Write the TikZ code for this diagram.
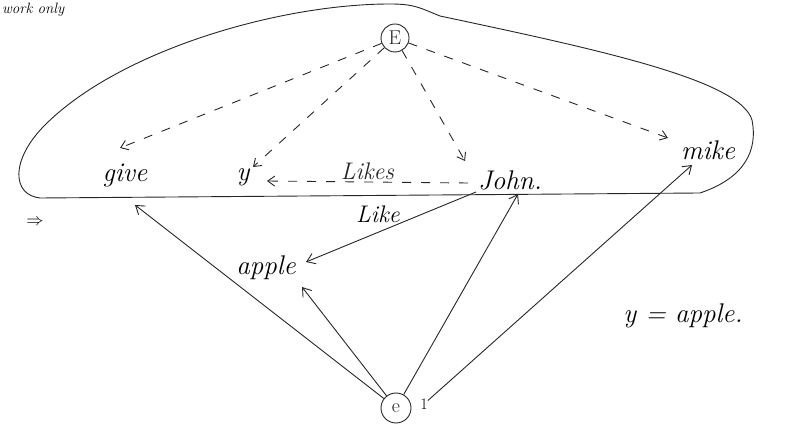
\documentclass[tikz,border=0pt]{standalone}
\usetikzlibrary{arrows.meta,calc}
\begin{document}
\begin{tikzpicture}[x=1pt,y=-1pt,
  ink/.style={line width=0.9pt,black!85},
  word/.style={font=\fontsize{27}{30}\selectfont\itshape,inner sep=1pt},
  circ/.style={circle,draw,ink,inner sep=1.5pt,font=\fontsize{20}{22}\selectfont},
  darr/.style={ink,dashed,dash pattern=on 9pt off 10pt,-{Straight Barb[length=7pt,width=10pt]}},
  sarr/.style={ink,-{Straight Barb[length=8pt,width=11pt]}},
  lbl/.style={font=\fontsize{24}{26}\selectfont\itshape,inner sep=1pt}]
\useasboundingbox (0,0) rectangle (788,438);
% partial text at top
\node[font=\fontsize{15}{17}\selectfont\itshape,anchor=base west,inner sep=0pt] (top) at (2,14) {work only};
% enclosing boundary
\draw[ink] (700,193) -- (40,198) .. controls (12,195) and (10,160) .. (45,125)
  .. controls (120,50) and (280,4) .. (390,4) .. controls (415,4) and (420,8) .. (440,16)
  .. controls (600,50) and (740,80) .. (752,120) .. controls (758,150) and (745,178) .. (700,193);
% nodes
\node[circ,minimum size=28pt] (E) at (395,38) {E};
\node[word] (give) at (125,175) {give};
\node[word] (y) at (243,177) {y};
\node[word] (john) at (510,180) {John.};
\node[word] (mike) at (708,150) {mike};
\node[word] (apple) at (266,268) {apple};
\node[circ,minimum size=30pt] (e1) at (396,408) {e};
\node[font=\fontsize{16}{18}\selectfont,inner sep=0pt] (one) at (424,404) {1};
\node[word] (eq) at (683,316) {y = apple.};
\node[font=\fontsize{18}{20}\selectfont] (imp) at (35,222) {$\Rightarrow$};
% dashed edges from E
\draw[darr] (E) -- ($(give)+(-5,-27)$);
\draw[darr] (E) -- ($(y)+(10,-10)$);
\draw[darr] (E) -- ($(john)+(-45,-19)$);
\draw[darr] (E) -- ($(mike)+(-40,-12)$);
% Likes
\draw[darr] ($(john)+(-42,3)$) -- node[lbl,above=1pt] {Likes} ($(y)+(24,4)$);
% Like
\draw[sarr] ($(john)+(-34,12)$) -- ($(apple)+(40,-6)$);
\node[lbl] (like) at (378,214) {Like};
% solid edges from e1
\draw[sarr] (e1) -- ($(give)+(10,30)$);
\draw[sarr] (e1) -- ($(apple)+(36,19)$);
\draw[sarr] (e1) -- ($(john)+(8,14)$);
\draw[sarr] (one) -- ($(mike)+(-16,15)$);
\end{tikzpicture}
\end{document}
